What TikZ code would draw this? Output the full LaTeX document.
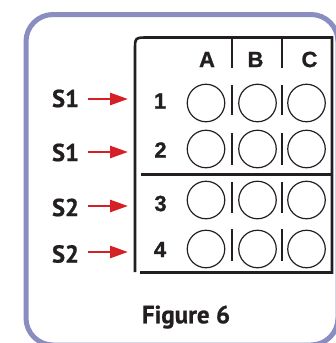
\documentclass[tikz,border=0pt]{standalone}
\usepackage{fontspec}
\setmainfont{PT Sans}[BoldFont={PT Sans Bold}, BoldFeatures={FakeBold=0.8}]
\newfontfamily\platefont{Liberation Sans}[BoldFont={Liberation Sans Bold}, BoldFeatures={FakeBold=1}]
\usetikzlibrary{arrows.meta}
\definecolor{framelav}{RGB}{137,141,192}
\definecolor{arrowred}{RGB}{214,32,40}
\definecolor{ink}{RGB}{35,31,32}
\tikzset{
  outerframe/.style={draw=framelav, line width=5pt, rounded corners=27pt},
  plateline/.style={draw=ink, line width=2.6pt},
  divider/.style={draw=ink, line width=2pt},
  well/.style={circle, draw=ink, line width=1.2pt, minimum size=37.5pt, inner sep=0pt},
  colhead/.style={font=\platefont\bfseries\fontsize{22}{22}\selectfont, text=ink, inner sep=0pt},
  rowhead/.style={font=\platefont\bfseries\fontsize{22}{22}\selectfont, text=ink, inner sep=0pt},
  sample/.style={font=\bfseries\fontsize{24.5}{24.5}\selectfont, text=ink, inner sep=0pt},
  caption/.style={font=\bfseries\fontsize{25}{25}\selectfont, text=ink, inner sep=0pt, anchor=base},
  redarrow/.style={draw=arrowred, line width=2.7pt, -{Triangle[length=18pt, width=12pt]}, shorten <=8.5pt, shorten >=7pt},
}
\begin{document}
\begin{tikzpicture}[x=1pt, y=-1pt]
\useasboundingbox (0,0) rectangle (335,343);

% lavender frame
\draw[outerframe] (26,14.5) rectangle (338,345);

% plate outline
\draw[plateline] (135,272) -- (135,50.5) .. controls (135,37.5) .. (148,37.5)
  -- (332,37.5) -- (332,272.5) -- (140,272.5);
\draw[plateline] (141,174.5) -- (332,174.5);

% column headers and their dividers
\draw[divider] (232,37.5) -- (232,68);
\draw[divider] (282,37.5) -- (282,68);
\node[colhead] (hA) at (207,59.5) {A};
\node[colhead] (hB) at (255.5,59.5) {B};
\node[colhead] (hC) at (309.5,59.5) {C};

% row numbers
\node[rowhead] (r1) at (160,101) {1};
\node[rowhead] (r2) at (160.5,150) {2};
\node[rowhead] (r3) at (160.5,203.5) {3};
\node[rowhead] (r4) at (160,249.5) {4};

% wells
\foreach \r/\y in {1/103, 2/149, 3/200, 4/249} {
  \node[well] (w\r A) at (206,\y) {};
  \node[well] (w\r B) at (257.5,\y) {};
  \node[well] (w\r C) at (306.5,\y) {};
}

% dividers between wells
\foreach \a/\b in {85/115, 133/165, 182/213, 229/261} {
  \draw[divider] (231.5,\a) -- (231.5,\b);
  \draw[divider] (281.5,\a) -- (281.5,\b);
}

% sample labels and arrows
\node[sample] (s1) at (65.5,98.5) {S1};
\node[sample] (s2) at (65.5,152.5) {S1};
\node[sample] (s3) at (65.5,207.5) {S2};
\node[sample] (s4) at (65.5,254) {S2};
\coordinate (e1) at (135,99);
\coordinate (e2) at (135,152);
\coordinate (e3) at (135,206);
\coordinate (e4) at (135,252);
\foreach \i in {1,2,3,4} {
  \draw[redarrow] (s\i.east |- e\i) -- (e\i);
}

% caption
\node[caption] (cap) at (186,323.3) {Figure 6};
\end{tikzpicture}
\end{document}
